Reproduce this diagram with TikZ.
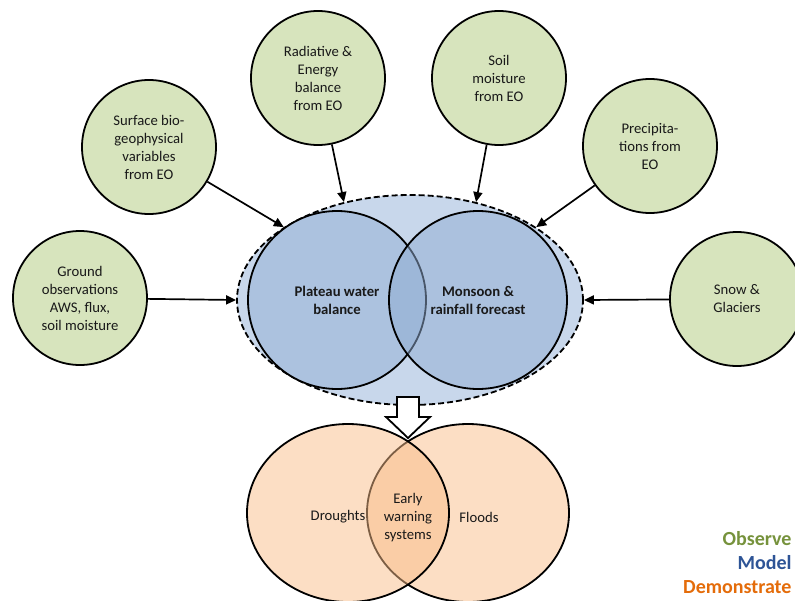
\documentclass[tikz,border=0pt]{standalone}
\usepackage{fontspec}
\setmainfont{Carlito}
\usetikzlibrary{shapes.geometric,arrows.meta}
\definecolor{gfill}{RGB}{215,228,189}
\definecolor{ofill}{RGB}{200,215,235}
\definecolor{bA}{RGB}{172,194,223}
\definecolor{bB}{RGB}{144,173,211}
\definecolor{orB}{RGB}{249,189,137}
\definecolor{txt}{RGB}{25,25,25}
\definecolor{cobs}{RGB}{118,146,60}
\definecolor{cmod}{RGB}{46,84,150}
\definecolor{cdem}{RGB}{228,108,10}
\begin{document}
\begin{tikzpicture}[x=1pt,y=-1pt,
  every node/.style={font=\fontsize{14.7}{18}\selectfont, text=txt},
  obsnode/.style={circle,draw,line width=1.8pt,fill=gfill,minimum size=134pt,inner sep=0pt,align=center},
  modnode/.style={circle,draw,line width=1.8pt,minimum size=178pt,inner sep=0pt,align=center,
    font=\bfseries\fontsize{14.7}{18}\selectfont},
  demnode/.style={ellipse,draw,line width=1.8pt,fill=orB,fill opacity=0.5,minimum width=202pt,minimum height=178pt,inner sep=0pt},
  link/.style={line width=1.7pt,-{Triangle[length=10pt,width=9pt]}},
  legend/.style={anchor=base east,font=\bfseries\fontsize{20}{24}\selectfont}
]
\useasboundingbox (0,0) rectangle (795,600);
\clip (0,0) rectangle (795,600);

% Model block
\node[ellipse,draw,dash pattern=on 6pt off 3pt,line width=1.8pt,fill=ofill,
  minimum width=346pt,minimum height=210pt,inner sep=0pt] (outer) at (410,300) {};
\node[modnode,fill=bA] (pwb) at (337,300) {Plateau water\\balance};
\node[modnode,fill=bB,fill opacity=0.5,text opacity=1] (mrf) at (478,300) {Monsoon \&\\rainfall forecast};

% Demonstrate block
\node[demnode] (flo) at (468,513) {};
\node[demnode] (dro) at (348,513) {};
\node (tdro) at (338,517) {Droughts};
\node (tflo) at (479,517) {Floods};
\node[align=center] (tews) at (408,518) {Early\\warning\\systems};

% Block arrow
\draw[line width=1.8pt,fill=white,line join=miter]
  (397,397) -- (419,397) -- (419,417) -- (430,417) -- (408,438) -- (386,417) -- (397,417) -- cycle;

% Observe nodes
\node[obsnode] (ground) at (80,298) {Ground\\observations\\AWS, flux,\\soil moisture};
\node[obsnode] (surf) at (149,147) {Surface bio-\\geophysical\\variables\\from EO};
\node[obsnode] (rad) at (318,78) {Radiative \&\\Energy\\balance\\from EO};
\node[obsnode] (soil) at (499,78) {Soil\\moisture\\from EO};
\node[obsnode] (prec) at (650,146) {Precipita-\\tions from\\EO};
\node[obsnode] (snow) at (737,299) {Snow \&\\Glaciers};

\draw[link] (ground) -- (outer.180);
\draw[link] (surf) -- (outer.150);
\draw[link] (rad) -- (outer.124);
\draw[link] (soil) -- (outer.56);
\draw[link] (prec) -- (outer.30);
\draw[link] (snow) -- (outer.0);

% Legend
\node[legend,text=cobs] (lobs) at (795,545) {Observe};
\node[legend,text=cmod] (lmod) at (795,569) {Model};
\node[legend,text=cdem] (ldem) at (795,593) {Demonstrate};
\end{tikzpicture}
\end{document}
